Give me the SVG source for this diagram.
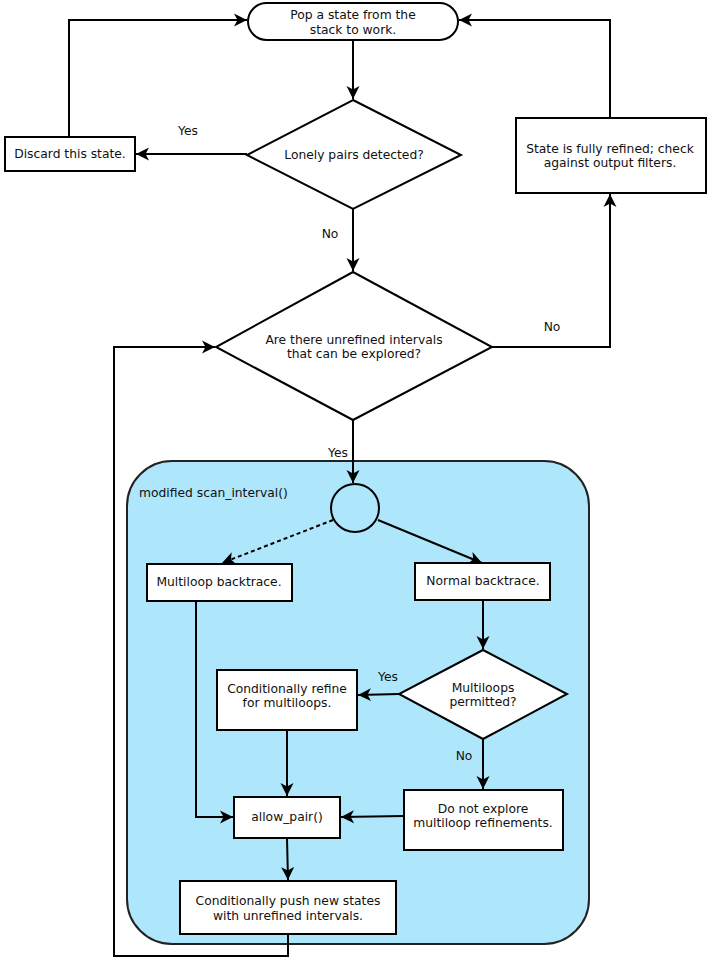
<svg xmlns="http://www.w3.org/2000/svg" width="707" height="960" viewBox="0 0 707 960">
<style>
.s{fill:#fff;stroke:#000;stroke-width:2}
.c{fill:none;stroke:#000;stroke-width:2}
text{font-family:"DejaVu Sans","Liberation Sans",sans-serif;font-size:12.3px;fill:#111;text-anchor:middle}
.l{text-anchor:start}
</style>
<defs>
<marker id="a" viewBox="-13 -7 14 14" markerWidth="14" markerHeight="14" refX="0" refY="0" orient="auto" markerUnits="userSpaceOnUse">
<path d="M0,0 L-13,-6.5 L-9.5,0 L-13,6.5 Z" fill="#000"/>
</marker>
</defs>
<g id="container">
<rect x="127" y="461" width="462" height="483" rx="45" fill="#aee6fb" stroke="#222" stroke-width="2"/>
<text class="l" x="139" y="497">modified scan_interval()</text>
</g>
<g id="connectors">
<path class="c" d="M353,40 V99" marker-end="url(#a)"/>
<path class="c" d="M247,154 H136" marker-end="url(#a)"/>
<path class="c" d="M69,137 V20 H247" marker-end="url(#a)"/>
<path class="c" d="M353,209 V271" marker-end="url(#a)"/>
<path class="c" d="M492,347 H610 V194" marker-end="url(#a)"/>
<path class="c" d="M610,118 V20 H459" marker-end="url(#a)"/>
<path class="c" d="M353,420 V483" marker-end="url(#a)"/>
<path class="c" d="M333,520 L222,563" stroke-dasharray="4,3" marker-end="url(#a)"/>
<path class="c" d="M378,520 L482,563" marker-end="url(#a)"/>
<path class="c" d="M483,600 V649" marker-end="url(#a)"/>
<path class="c" d="M399,694 L358,695" marker-end="url(#a)"/>
<path class="c" d="M483,739 V789" marker-end="url(#a)"/>
<path class="c" d="M287,730 V796" marker-end="url(#a)"/>
<path class="c" d="M196,601 V817 H233" marker-end="url(#a)"/>
<path class="c" d="M404,816 L341,817" marker-end="url(#a)"/>
<path class="c" d="M287,838 L288,880" marker-end="url(#a)"/>
<path class="c" d="M288,934 V956 H114 V347 H215" marker-end="url(#a)"/>
<text x="188" y="135">Yes</text>
<text x="330" y="238">No</text>
<text x="552" y="331">No</text>
<text x="338" y="457">Yes</text>
<text x="388" y="681">Yes</text>
<text x="464" y="760">No</text>
</g>
<g id="pop">
<rect class="s" x="248" y="3" width="210" height="37" rx="18.5"/>
<text x="353" y="18.5">Pop a state from the</text>
<text x="353" y="33.5">stack to work.</text>
</g>
<g id="lonely">
<polygon class="s" points="353,100 461,155 353,209 247,155"/>
<text x="354" y="158.5">Lonely pairs detected?</text>
</g>
<g id="discard">
<rect class="s" x="5" y="137" width="130" height="34"/>
<text x="70" y="158">Discard this state.</text>
</g>
<g id="refined">
<rect class="s" x="516" y="118" width="190" height="75"/>
<text x="610" y="152.5">State is fully refined; check</text>
<text x="610" y="167">against output filters.</text>
</g>
<g id="unrefined">
<polygon class="s" points="353,272 492,347 353,420 216,347"/>
<text x="354" y="343.5">Are there unrefined intervals</text>
<text x="354" y="358">that can be explored?</text>
</g>
<g id="start">
<circle cx="355" cy="508" r="24" fill="#aee6fb" stroke="#000" stroke-width="2"/>
</g>
<g id="multiloop">
<rect class="s" x="147" y="564" width="145" height="37"/>
<text x="219" y="586">Multiloop backtrace.</text>
</g>
<g id="normal">
<rect class="s" x="415" y="563" width="135" height="37"/>
<text x="483" y="585">Normal backtrace.</text>
</g>
<g id="permitted">
<polygon class="s" points="483,650 567,694 483,739 399,694"/>
<text x="483" y="692">Multiloops</text>
<text x="483" y="706">permitted?</text>
</g>
<g id="refine">
<rect class="s" x="217" y="670" width="140" height="60"/>
<text x="287" y="692.5">Conditionally refine</text>
<text x="287" y="707">for multiloops.</text>
</g>
<g id="noexplore">
<rect class="s" x="404" y="790" width="159" height="60"/>
<text x="483" y="812.5">Do not explore</text>
<text x="483" y="827">multiloop refinements.</text>
</g>
<g id="allow">
<rect class="s" x="234" y="797" width="106" height="41"/>
<text x="287" y="821">allow_pair()</text>
</g>
<g id="push">
<rect class="s" x="180" y="881" width="216" height="53"/>
<text x="288" y="905">Conditionally push new states</text>
<text x="288" y="919.5">with unrefined intervals.</text>
</g>
</svg>
